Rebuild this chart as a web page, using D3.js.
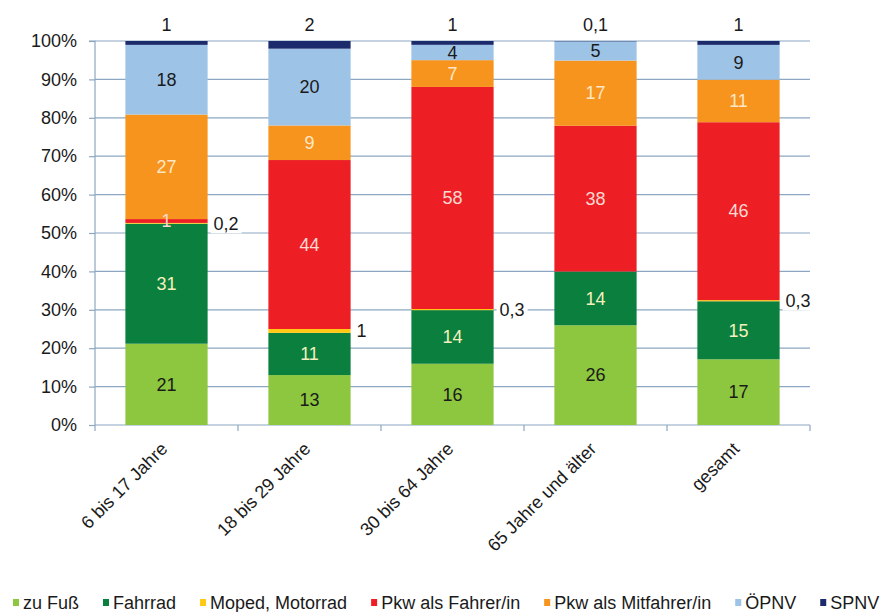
<!DOCTYPE html>
<html>
<head>
<meta charset="utf-8">
<script src="https://cdn.jsdelivr.net/npm/d3@7"></script>
<style>
  html, body { margin: 0; padding: 0; background: #fff; }
  svg { display: block; font-family: "Liberation Sans", Arial, sans-serif; }
</style>
</head>
<body>
<svg id="chart" width="885" height="612"></svg>
<script>
// Modal split by age group (shares in %)
const categories = ["6 bis 17 Jahre", "18 bis 29 Jahre", "30 bis 64 Jahre", "65 Jahre und älter", "gesamt"];
const seriesNames = ["zu Fuß", "Fahrrad", "Moped, Motorrad", "Pkw als Fahrer/in", "Pkw als Mitfahrer/in", "ÖPNV", "SPNV"];

const zuFuss      = [21, 13, 16, 26, 17];
const fahrrad     = [31, 11, 14, 14, 15];
const moped       = [0.2, 1, 0.3, null, 0.3];
const pkwFahrer   = [1, 44, 58, 38, 46];
const pkwMitfahrer= [27, 9, 7, 17, 11];
const oepnv       = [18, 20, 4, 5, 9];
const spnv        = [1, 2, 1, 0.1, 1];

const yTicks = [0, 0.1, 0.2, 0.3, 0.4, 0.5, 0.6, 0.7, 0.8, 0.9, 1];

const seriesValues = [zuFuss, fahrrad, moped, pkwFahrer, pkwMitfahrer, oepnv, spnv];
const colors = ["#8dc63f", "#0a7f3e", "#ffc914", "#ed1f24", "#f7941d", "#9dc3e6", "#1c2b6b"];
const labelColors = ["#1a1a1a", "#f4f0bd", "#1a1a1a", "#fbd9d2", "#fde7c6", "#1a1a1a", "#1a1a1a"];

const rows = categories.map((c, i) => {
  const r = { cat: c };
  seriesNames.forEach((s, j) => { r[s] = seriesValues[j][i] == null ? 0 : seriesValues[j][i]; });
  return r;
});

const stack = d3.stack().keys(seriesNames).offset(d3.stackOffsetExpand);
const stacked = stack(rows);

const svg = d3.select("#chart");
const plotLeft = 95, plotRight = 810, plotTop = 41, plotBottom = 425;
const fontSize = 18;

const x = d3.scaleBand().domain(categories).range([plotLeft, plotRight]).paddingInner(0.425).paddingOuter(0.2125);
const xb = d3.scaleBand().domain(categories).range([plotLeft, plotRight]);
const y = d3.scaleLinear().domain([0, 1]).range([plotBottom, plotTop]);

const gridColor = "#8ca7c1";
const de = d3.formatLocale({ decimal: ",", thousands: ".", grouping: [3], currency: ["", "€"] });
const fmt = de.format("~g");
const pct = de.format(".0%");

// horizontal gridlines
svg.append("g")
  .selectAll("line")
  .data(yTicks.slice(1))
  .join("line")
  .attr("x1", plotLeft).attr("x2", plotRight)
  .attr("y1", d => y(d)).attr("y2", d => y(d))
  .attr("stroke", gridColor).attr("stroke-width", 1.2);

// y axis
const yAxis = svg.append("g")
  .attr("transform", `translate(${plotLeft},0)`)
  .call(d3.axisLeft(y).tickValues(yTicks).tickFormat(pct).tickSize(6).tickPadding(12));
yAxis.select(".domain").attr("stroke", gridColor).attr("stroke-width", 1.2).attr("d", `M-6,${plotTop}H0V${plotBottom + 6}`);
yAxis.selectAll(".tick line").attr("stroke", gridColor).attr("stroke-width", 1.2);
yAxis.selectAll(".tick text").attr("font-size", fontSize).attr("fill", "#1a1a1a").attr("font-family", "Liberation Sans, Arial, sans-serif");

// x axis with ticks on category boundaries
const xAxisG = svg.append("g").attr("transform", `translate(0,${plotBottom})`);
xAxisG.append("line").attr("x1", plotLeft).attr("x2", plotRight).attr("y1", 0).attr("y2", 0)
  .attr("stroke", gridColor).attr("stroke-width", 1.2);
xAxisG.selectAll("line.tk")
  .data(categories)
  .join("line").attr("class", "tk")
  .attr("x1", d => xb(d) + xb.bandwidth()).attr("x2", d => xb(d) + xb.bandwidth())
  .attr("y1", 0).attr("y2", 6)
  .attr("stroke", gridColor).attr("stroke-width", 1.2);
xAxisG.selectAll("text")
  .data(categories)
  .join("text")
  .attr("transform", d => `translate(${xb(d) + xb.bandwidth() / 2 + 2},${25}) rotate(-45)`)
  .attr("text-anchor", "end")
  .attr("font-size", fontSize)
  .attr("fill", "#1a1a1a")
  .text(d => d);

// stacked bars
const layers = svg.append("g").selectAll("g")
  .data(stacked)
  .join("g")
  .attr("fill", (d, i) => colors[i]);

layers.selectAll("rect")
  .data(d => d)
  .join("rect")
  .attr("x", d => x(d.data.cat))
  .attr("width", x.bandwidth())
  .attr("y", d => y(d[1]))
  .attr("height", d => Math.max(0, y(d[0]) - y(d[1])));

// value labels
const labelG = svg.append("g").attr("font-size", fontSize);
stacked.forEach((layer, si) => {
  const name = seriesNames[si];
  layer.forEach((d, ci) => {
    const v = seriesValues[si][ci];
    if (v == null) return;
    const cx = x(d.data.cat) + x.bandwidth() / 2;
    const mid = (y(d[0]) + y(d[1])) / 2;
    if (name === "Moped, Motorrad") {
      // small shares sit right of the bar on a white box
      const tx = x(d.data.cat) + x.bandwidth() + 6;
      const t = labelG.append("text")
        .attr("x", tx).attr("y", mid).attr("dy", "0.35em")
        .attr("fill", "#1a1a1a").text(fmt(v));
      const w = t.node().getComputedTextLength();
      labelG.insert("rect", () => t.node())
        .attr("x", tx - 3).attr("y", mid - 10).attr("width", w + 6).attr("height", 20)
        .attr("fill", "#fff");
    } else if (name === "SPNV") {
      labelG.append("text")
        .attr("x", cx).attr("y", y(d[1]) - 10)
        .attr("text-anchor", "middle")
        .attr("fill", "#1a1a1a").text(fmt(v));
    } else {
      labelG.append("text")
        .attr("x", cx).attr("y", mid).attr("dy", "0.35em")
        .attr("text-anchor", "middle")
        .attr("fill", labelColors[si]).text(fmt(v));
    }
  });
});

// legend
const legend = svg.append("g").attr("transform", "translate(13,606)");
let lx = 0;
seriesNames.forEach((s, i) => {
  const g = legend.append("g").attr("transform", `translate(${lx},0)`);
  g.append("rect").attr("x", 0).attr("y", -7).attr("width", 6).attr("height", 7).attr("fill", colors[i]);
  const t = g.append("text").attr("x", 10).attr("y", 3).attr("font-size", fontSize).attr("fill", "#1a1a1a").text(s);
  lx += 10 + t.node().getComputedTextLength() + 24;
});
</script>
</body>
</html>
